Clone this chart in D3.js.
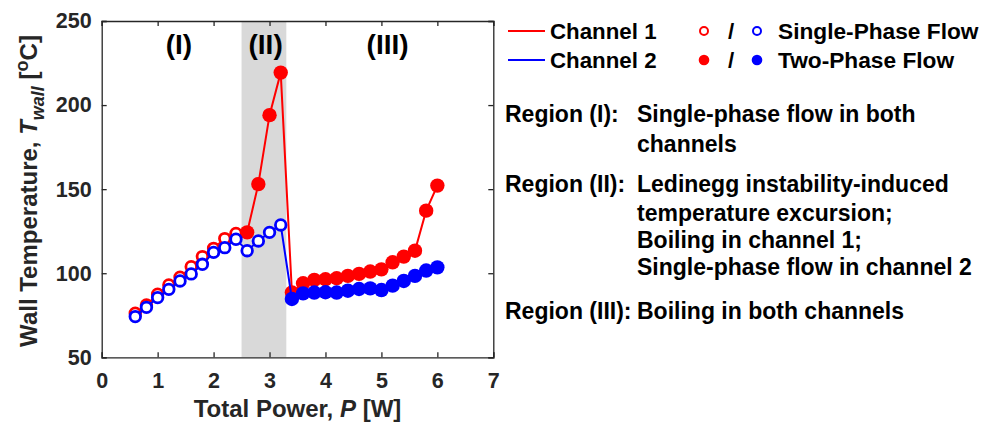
<!DOCTYPE html>
<html><head><meta charset="utf-8">
<script src="https://cdn.jsdelivr.net/npm/d3@7"></script>
<style>
html,body{margin:0;padding:0;background:#fff;}
svg text{font-family:"Liberation Sans",Arial,sans-serif;font-weight:bold;}
</style></head>
<body>
<svg id="c" width="984" height="426"></svg>
<script>
// ---- data ----
const power = [0.6,0.8,1.0,1.2,1.4,1.6,1.8,2.0,2.2,2.4,2.6,2.8,3.0,3.2,3.4,3.6,3.8,4.0,4.2,4.4,4.6,4.8,5.0,5.2,5.4,5.6,5.8,6.0];
const ch1Temp = [76.2,81.1,87.5,93.0,97.6,103.9,109.9,114.8,120.6,123.7,124.3,153.0,194.0,219.3,88.5,94.0,96.0,96.4,97.0,98.4,99.6,101.0,102.3,106.5,109.9,113.4,137.2,152.1];
const ch2Temp = [74.2,79.7,85.5,90.4,95.4,99.6,105.3,112.4,115.2,120.2,113.4,119.2,124.3,128.7,84.7,88.0,88.5,88.7,88.5,89.6,90.6,91.0,90.0,92.6,95.4,98.4,101.6,103.5];
// S = single-phase, T = two-phase
const ch1Phase = ["S","S","S","S","S","S","S","S","S","S","T","T","T","T","T","T","T","T","T","T","T","T","T","T","T","T","T","T"];
const ch2Phase = ["S","S","S","S","S","S","S","S","S","S","S","S","S","S","T","T","T","T","T","T","T","T","T","T","T","T","T","T"];
const xTicks = [0,1,2,3,4,5,6,7];
const yTicks = [50,100,150,200,250];
const regionBand = [2.5,3.3];
const regionLabels = [{t:"(I)",x:1.38},{t:"(II)",x:2.93},{t:"(III)",x:5.11}];
const channelNames = ["Channel 1","Channel 2"];
const phaseNames = ["Single-Phase Flow","Two-Phase Flow"];
const regionNotes = [
  {head:"Region (I):", lines:["Single-phase flow in both","channels"]},
  {head:"Region (II):", lines:["Ledinegg instability-induced","temperature excursion;","Boiling in channel 1;","Single-phase flow in channel 2"]},
  {head:"Region (III):", lines:["Boiling in both channels"]}
];
const colors = ["#ff0000","#0000ff"];

// ---- layout ----
const svg = d3.select("#c");
const L = 101.7, R = 493.3, T = 21, B = 357.3;
const x = d3.scaleLinear().domain([0,7]).range([L,R]);
const y = d3.scaleLinear().domain([50,250]).range([B,T]);
const axisCol = "#262626";

// band
svg.append("rect").attr("x",x(regionBand[0])).attr("y",T)
  .attr("width",x(regionBand[1])-x(regionBand[0])).attr("height",B-T).attr("fill","#d9d9d9");

// axes
const gx = svg.append("g").attr("transform",`translate(0,${B})`)
  .call(d3.axisBottom(x).tickValues(xTicks).tickSize(-5).tickPadding(15).tickFormat(d3.format("d")));
const gy = svg.append("g").attr("transform",`translate(${L},0)`)
  .call(d3.axisLeft(y).tickValues(yTicks).tickSize(-5).tickPadding(10).tickFormat(d3.format("d")));
const gx2 = svg.append("g").attr("transform",`translate(0,${T})`)
  .call(d3.axisTop(x).tickValues(xTicks).tickSize(-5).tickFormat(""));
const gy2 = svg.append("g").attr("transform",`translate(${R},0)`)
  .call(d3.axisRight(y).tickValues(yTicks).tickSize(-5).tickFormat(""));
[gx,gy,gx2,gy2].forEach(g=>{
  g.selectAll("path.domain").attr("stroke",axisCol).attr("stroke-width",1.3);
  g.selectAll(".tick line").attr("stroke",axisCol).attr("stroke-width",1.3);
  g.selectAll(".tick text").attr("fill",axisCol).style("font-size","21.5px");
});

// region labels
svg.selectAll("text.reg").data(regionLabels).enter().append("text")
  .attr("x",d=>x(d.x)).attr("y",54).attr("text-anchor","middle")
  .style("font-size","28px").attr("fill","#000").text(d=>d.t);

// series
const series = [
  {vals:ch1Temp, phase:ch1Phase, col:colors[0]},
  {vals:ch2Temp, phase:ch2Phase, col:colors[1]}
];
const line = d3.line().x(d=>x(d[0])).y(d=>y(d[1]));
series.forEach(s=>{
  const pts = power.map((p,i)=>[p,s.vals[i],s.phase[i]]);
  svg.append("path").attr("d",line(pts)).attr("fill","none").attr("stroke",s.col).attr("stroke-width",2);
  svg.selectAll(null).data(pts).enter().append("circle")
    .attr("cx",d=>x(d[0])).attr("cy",d=>y(d[1]))
    .attr("r",d=>d[2]==="S"?5.3:7.2)
    .attr("fill",d=>d[2]==="S"?"#fff":s.col)
    .attr("stroke",s.col).attr("stroke-width",d=>d[2]==="S"?2.8:0);
});

// axis titles
svg.append("text").attr("x",(L+R)/2).attr("y",417).attr("text-anchor","middle")
  .attr("fill",axisCol).style("font-size","24px")
  .html('Total Power, <tspan font-style="italic">P</tspan> [W]');
const yt = svg.append("text").attr("transform","translate(37,191) rotate(-90)")
  .attr("text-anchor","middle").attr("fill",axisCol).style("font-size","24px");
yt.append("tspan").text("Wall Temperature, ");
yt.append("tspan").attr("font-style","italic").text("T");
yt.append("tspan").attr("font-style","italic").attr("dy",7).style("font-size","18px").text("wall");
yt.append("tspan").attr("dy",-7).text(" [");
yt.append("tspan").attr("dy",-9).style("font-size","18px").text("o");
yt.append("tspan").attr("dy",9).text("C]");

// legend
const legY = [31,60];
channelNames.forEach((n,i)=>{
  svg.append("line").attr("x1",508).attr("x2",545).attr("y1",legY[i]).attr("y2",legY[i])
    .attr("stroke",colors[i]).attr("stroke-width",2);
  svg.append("text").attr("x",550).attr("y",legY[i]+8).style("font-size","22.3px").attr("fill","#000").text(n);
});
phaseNames.forEach((n,i)=>{
  colors.forEach((c,j)=>{
    svg.append("circle").attr("cx",j===0?704:757).attr("cy",legY[i]).attr("r",i===0?4:5.3)
      .attr("fill",i===0?"#fff":c).attr("stroke",c).attr("stroke-width",i===0?2:0);
  });
  svg.append("text").attr("x",731).attr("y",legY[i]+8).attr("text-anchor","middle")
    .style("font-size","22.3px").attr("fill","#000").text("/");
  svg.append("text").attr("x",778).attr("y",legY[i]+8).style("font-size","22.7px").attr("fill","#000").text(n);
});

// region notes
const noteY = [[115,145],[185,214,241,268],[312]];
regionNotes.forEach((r,i)=>{
  svg.append("text").attr("x",505).attr("y",noteY[i][0]+7).style("font-size","23px").attr("fill","#000").text(r.head);
  r.lines.forEach((l,k)=>{
    svg.append("text").attr("x",637).attr("y",noteY[i][k]+7).style("font-size","23px").attr("fill","#000").text(l);
  });
});
</script>
</body></html>
